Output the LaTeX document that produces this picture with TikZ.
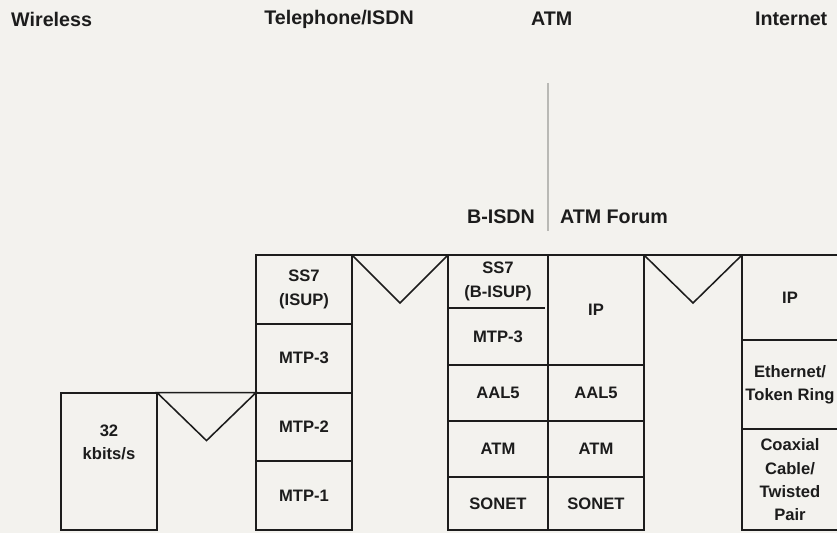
\documentclass[tikz,border=0pt]{standalone}
\usepackage{fontspec}
\setmainfont{Liberation Sans}
\usetikzlibrary{calc}
\definecolor{pkPaper}{HTML}{F3F2EE}
\definecolor{pkInk}  {HTML}{1C1C1C}
\definecolor{pkRule} {HTML}{B9B9B5}

\begin{document}
\begin{tikzpicture}[font=\bfseries,
      colhead/.style={text=pkInk,font=\fontsize{14}{16}\selectfont\bfseries},
      stackbox/.style={draw=pkInk,line width=1.4pt,minimum width=2.4cm,
                  align=center,inner sep=0pt,outer sep=0pt,text=pkInk,
                  font=\fontsize{11.8}{16.4}\selectfont\bfseries},
      gap/.style={draw=pkInk,line width=1.1pt,line join=miter}]

    \useasboundingbox (0,0) rectangle (20.925,13.325);
    \clip (0,0) rectangle (20.925,13.325);
    \fill[pkPaper] (0,0) rectangle (20.925,13.325);

    % column heads
    \node[colhead] (wireless) at (1.29,12.85) {Wireless};
    \node[colhead] (phone)    at (8.475,12.85) {Telephone/ISDN};
    \node[colhead] (atm)      at (13.79,12.85) {ATM};
    \node[colhead] (internet) at (19.78,12.85) {Internet};

    % ATM splits in two
    \node[colhead] (bisdn) at (12.525,7.9) {B-ISDN};
    \node[colhead] (forum) at (15.35,7.9) {ATM Forum};
    \coordinate (split) at (13.7,11.25);
    \draw[pkRule,line width=0.8pt] (split) -- ++(0,-3.7);

    % WIRELESS
    \node[stackbox,minimum height=3.44cm] (w1) at (2.725,1.79) {};
    \node[stackbox,draw=none] (w1txt) at ($(w1.north)+(0,-1.25)$) {32\\kbits/s};

    % TELEPHONE/ISDN
    \node[stackbox,minimum height=1.72cm] (t1) at (7.6,6.09) {SS7\\(ISUP)};
    \node[stackbox,minimum height=1.72cm] (t2) at (7.6,4.37) {MTP-3};
    \node[stackbox,minimum height=1.72cm] (t3) at (7.6,2.65) {MTP-2};
    \node[stackbox,minimum height=1.72cm] (t4) at (7.6,0.93) {MTP-1};

    % B-ISDN
    \node[stackbox,minimum width=2.5cm,minimum height=2.75cm] (b1) at (12.45,5.575) {};
    \node[stackbox,draw=none] (b1a) at (12.45,6.29) {SS7\\(B-ISUP)};
    \node[stackbox,draw=none] (b1b) at (12.45,4.91) {MTP-3};
    \draw[pkInk,line width=0.8pt] ($(b1.north west)+(0,-1.325)$) -- ++(2.42,0);
    \node[stackbox,minimum width=2.5cm,minimum height=1.4cm]  (b2) at (12.45,3.5)   {AAL5};
    \node[stackbox,minimum width=2.5cm,minimum height=1.4cm]  (b3) at (12.45,2.1)   {ATM};
    \node[stackbox,minimum width=2.5cm,minimum height=1.33cm] (b4) at (12.45,0.735) {SONET};

    % ATM FORUM
    \node[stackbox,minimum height=2.75cm] (f1) at (14.9,5.575) {IP};
    \node[stackbox,minimum height=1.4cm]  (f2) at (14.9,3.5)   {AAL5};
    \node[stackbox,minimum height=1.4cm]  (f3) at (14.9,2.1)   {ATM};
    \node[stackbox,minimum height=1.33cm] (f4) at (14.9,0.735) {SONET};

    % INTERNET
    \node[stackbox,minimum height=2.125cm] (n1) at (19.75,5.8875) {IP};
    \node[stackbox,minimum height=2.225cm] (n2) at (19.75,3.7125) {Ethernet/\\Token Ring};
    \node[stackbox,minimum height=2.53cm]  (n3) at (19.75,1.335)  {Coaxial\\Cable/\\Twisted\\Pair};

    % gaps between neighbouring stacks
    \foreach \a/\b in {w1/t3,t1/b1,f1/n1}
      \draw[gap] (\a.north east) -- (\b.north west)
        -- ($(\a.north east)!0.5!(\b.north west)+(0,-1.2)$) -- cycle;
  \end{tikzpicture}
\end{document}
